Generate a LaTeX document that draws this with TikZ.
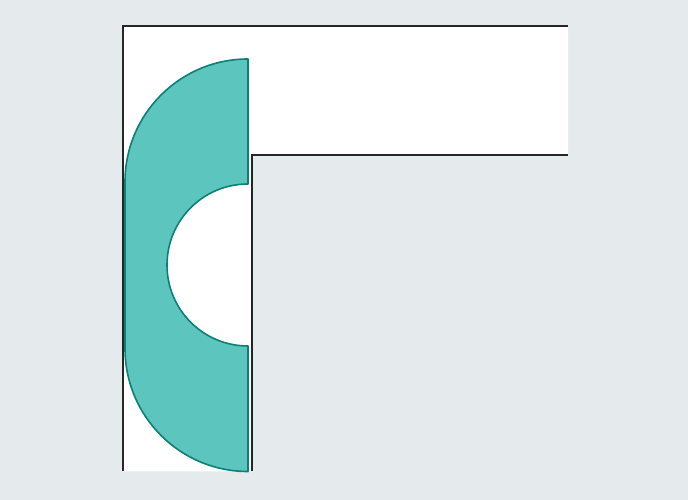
\documentclass[tikz,border=0pt]{standalone}
\definecolor{bg}{HTML}{E5EAED}
\definecolor{tealfill}{HTML}{5CC5BE}
\definecolor{tealline}{HTML}{0E7F77}
\definecolor{wall}{HTML}{262626}
\tikzset{
  wallline/.style={draw=wall,line width=2pt},
  lobe/.style={fill=tealfill,draw=tealline,line width=1.6pt,line join=round}
}
\begin{document}
\begin{tikzpicture}[x=1pt,y=1pt]
\fill[bg] (0,0) rectangle (688,500);
\useasboundingbox (0,0) rectangle (688,500);
% white L-shaped region
\fill[white] (122.5,474) -- (568,474) -- (568,345) -- (251.5,345) -- (251.5,28.5) -- (122.5,28.5) -- cycle;
% teal shape
\path[lobe] (248,441) arc[start angle=90,end angle=180,radius=123]
  -- (125,151.5) arc[start angle=180,end angle=270,radius=123]
  -- (248,154) arc[start angle=270,end angle=90,radius=81]
  -- cycle;
% walls
\draw[wallline] (568,474) -- (122.5,474) -- (122.5,28.5);
\draw[wallline] (251.5,28.5) -- (251.5,345) -- (568,345);
\end{tikzpicture}
\end{document}
